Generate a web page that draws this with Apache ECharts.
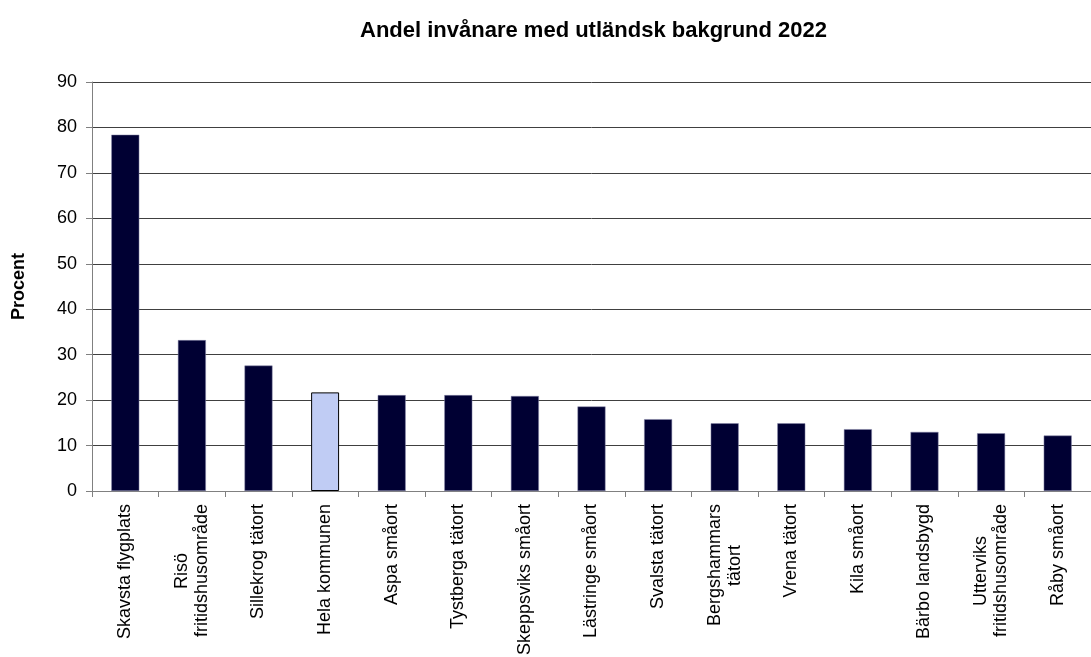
<!DOCTYPE html>
<html>
<head>
<meta charset="utf-8">
<script src="https://cdn.jsdelivr.net/npm/echarts@6/dist/echarts.min.js"></script>
<style>html,body{margin:0;padding:0;background:#fff}#c{width:1091px;height:657px}</style>
</head>
<body>
<div id="c"></div>
<script>
const categories = ["Skavsta flygplats", "Risö\nfritidshusområde", "Sillekrog tätort", "Hela kommunen", "Aspa småort", "Tystberga tätort", "Skeppsviks småort", "Lästringe småort", "Svalsta tätort", "Bergshammars\ntätort", "Vrena tätort", "Kila småort", "Bärbo landsbygd", "Utterviks\nfritidshusområde", "Råby småort"];
const values = [78.4, 33.2, 27.6, 21.7, 21.1, 21.1, 20.9, 18.6, 15.8, 14.9, 14.9, 13.6, 13.0, 12.7, 12.2];
const highlightCategory = "Hela kommunen";
const yTicks = [0, 10, 20, 30, 40, 50, 60, 70, 80, 90];

const FONT = "'Liberation Sans', Arial, sans-serif";
const LABEL_SIZE = 18;

// pad each line of a multi-line label to the widest line so the lines are centred
const mctx = document.createElement('canvas').getContext('2d');
mctx.font = LABEL_SIZE + 'px ' + FONT;
const rich = {};
categories.forEach((c, i) => {
  const lines = c.split('\n');
  if (lines.length < 2) return;
  const widths = lines.map(s => mctx.measureText(s).width);
  const w = Math.max(...widths);
  lines.forEach((s, j) => {
    const p = Math.round((w - widths[j]) / 2);
    rich['k' + i + 'l' + j] = {padding: [0, p, 0, p], fontFamily: FONT, fontSize: LABEL_SIZE, color: '#000', lineHeight: 20};
  });
});

const chart = echarts.init(document.getElementById('c'), null, {renderer: 'canvas'});
chart.setOption({
  animation: false,
  backgroundColor: '#ffffff',
  title: {
    text: 'Andel invånare med utländsk bakgrund 2022',
    left: 355, top: 15,
    textStyle: {fontFamily: FONT, fontSize: 22, fontWeight: 'bold', color: '#000'}
  },
  grid: {left: 92, right: 0, top: 82, bottom: 166, outerBoundsMode: 'none', containLabel: false},
  xAxis: {
    type: 'category',
    data: categories,
    axisLine: {lineStyle: {color: '#808080', width: 1}},
    axisTick: {show: true, length: 6, alignWithLabel: false, lineStyle: {color: '#808080'}},
    axisLabel: {
      rotate: 90, interval: 0, margin: 13,
      fontFamily: FONT, fontSize: LABEL_SIZE, color: '#000',
      formatter: function (v, idx) {
        const lines = String(v).split('\n');
        if (lines.length === 1) return v;
        return lines.map((s, j) => '{k' + idx + 'l' + j + '|' + s + '}').join('\n');
      },
      rich: rich
    }
  },
  yAxis: {
    type: 'value',
    min: yTicks[0], max: yTicks[yTicks.length - 1], interval: 10,
    name: 'Procent', nameLocation: 'middle', nameGap: 64,
    nameTextStyle: {fontFamily: FONT, fontSize: 18, fontWeight: 'bold', color: '#000'},
    axisLine: {show: true, lineStyle: {color: '#808080', width: 1}},
    axisTick: {show: true, length: 6, lineStyle: {color: '#808080'}},
    axisLabel: {fontFamily: FONT, fontSize: 18, color: '#000', margin: 15},
    splitLine: {show: true, lineStyle: {color: '#404040', width: 1}}
  },
  series: [{
    type: 'bar',
    barWidth: '42%',
    data: values.map((v, i) => categories[i] === highlightCategory
      ? {value: v, itemStyle: {color: '#c0ccf4', borderColor: '#000', borderWidth: 1}}
      : {value: v, itemStyle: {color: '#000033', borderColor: '#8888aa', borderWidth: 0.5}})
  }]
});
</script>
</body>
</html>
